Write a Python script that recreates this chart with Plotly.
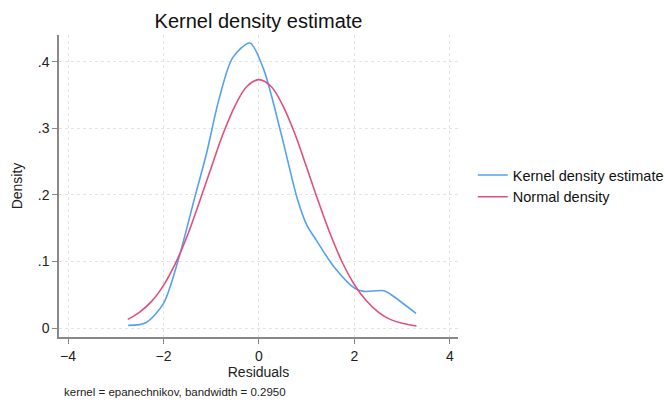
import plotly.graph_objects as go

# Kernel density estimate
kde_x = [-2.74, -2.37, -2.0, -1.7, -1.36, -1.1, -0.84, -0.55, -0.19, 0.1, 0.46, 0.8, 1.0, 1.2, 1.57, 2.0, 2.2, 2.62, 2.77, 3.29]
kde_y = [0.004, 0.008, 0.037, 0.100, 0.192, 0.262, 0.343, 0.406, 0.428, 0.388, 0.293, 0.195, 0.155, 0.132, 0.092, 0.060, 0.055, 0.056, 0.050, 0.022]

# Normal density
norm_x = [-2.75, -2.5, -2.25, -2.0, -1.75, -1.5, -1.25, -1.0, -0.75, -0.5, -0.25, 0.0, 0.25, 0.5, 0.75, 1.0, 1.25, 1.5, 1.75, 2.0, 2.25, 2.5, 2.75, 3.0, 3.3]
norm_y = [0.013, 0.024, 0.040, 0.064, 0.097, 0.139, 0.189, 0.241, 0.292, 0.334, 0.363, 0.373, 0.363, 0.334, 0.292, 0.241, 0.189, 0.140, 0.098, 0.065, 0.041, 0.024, 0.013, 0.007, 0.003]

x_ticks = [-4, -2, 0, 2, 4]
y_ticks = [0, 0.1, 0.2, 0.3, 0.4]
y_ticklabels = ["0", ".1", ".2", ".3", ".4"]

font = "Liberation Sans, Arial, sans-serif"

fig = go.Figure()
fig.add_trace(go.Scatter(x=kde_x, y=kde_y, mode="lines", name="Kernel density estimate",
                         line=dict(color="#55a0f2", width=1.6, shape="spline", smoothing=0.8)))
fig.add_trace(go.Scatter(x=norm_x, y=norm_y, mode="lines", name="Normal density",
                         line=dict(color="#e0507a", width=1.6, shape="spline", smoothing=1.0)))

fig.update_layout(
    width=665, height=400,
    margin=dict(l=59, r=207, t=35, b=63, autoexpand=False),
    paper_bgcolor="white", plot_bgcolor="white",
    font=dict(family=font, size=14, color="#222"),
    title=dict(text="Kernel density estimate", x=(59 + 458) / 2 / 665, xanchor="center",
               y=1 - 21 / 400, yanchor="middle", font=dict(size=20, color="#111")),
    legend=dict(x=1.037, y=0.50, xanchor="left", yanchor="middle", font=dict(size=14.5, color="#111"),
                itemwidth=30, tracegroupgap=0, bgcolor="rgba(0,0,0,0)"),
    showlegend=True,
)
fig.update_xaxes(range=[-4.19, 4.17], tickvals=x_ticks, ticks="outside", ticklen=5, tickcolor="#888",
                 showline=True, linecolor="#888", linewidth=1.5, showgrid=True, gridcolor="#e4e4e4",
                 griddash="dot", zeroline=False, automargin=False, tickfont=dict(size=14),
                 title=dict(text="Residuals", font=dict(size=14), standoff=5))
fig.update_yaxes(range=[-0.0135, 0.44], tickvals=y_ticks, ticktext=y_ticklabels, ticks="outside", ticklen=5,
                 tickcolor="#888", showline=True, linecolor="#888", linewidth=1.5, showgrid=True,
                 gridcolor="#e4e4e4", griddash="dot", zeroline=False, automargin=False, tickfont=dict(size=14),
                 title=dict(text="Density", font=dict(size=14), standoff=12))
fig.add_annotation(text="kernel = epanechnikov, bandwidth = 0.2950", xref="paper", yref="paper",
                   x=(62 - 59) / 399, y=-(392 - 337) / 302, xanchor="left", yanchor="middle", showarrow=False,
                   font=dict(size=11.5, color="#222"))

fig.write_html("out.html", config={"displayModeBar": False},
               post_script="document.body.style.margin='0';document.body.style.padding='0';document.body.style.overflow='hidden';")
